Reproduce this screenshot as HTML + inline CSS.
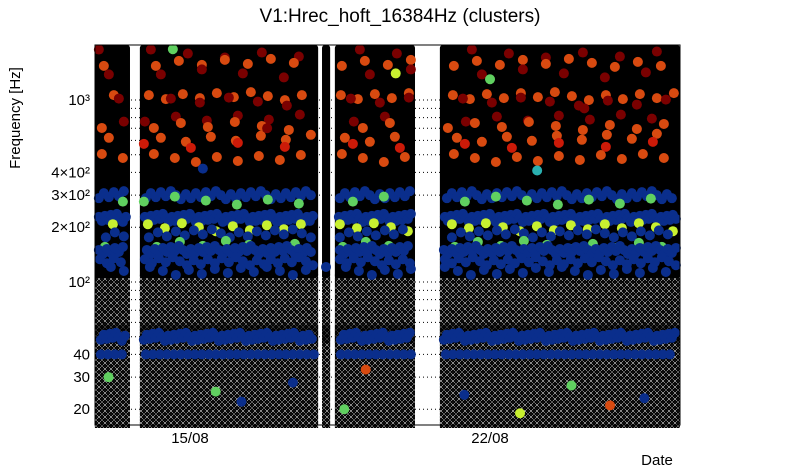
<!DOCTYPE html>
<html><head><meta charset="utf-8"><style>
body{margin:0;background:#fff;}
svg{display:block;font-family:"Liberation Sans",sans-serif;}
</style></head><body>
<svg id="chart" width="805" height="472">
<defs>
<pattern id="circ" width="6" height="6" patternUnits="userSpaceOnUse">
<circle cx="3" cy="3" r="3" fill="none" stroke="#000" stroke-width="1.3"/>
<circle cx="0" cy="0" r="3" fill="none" stroke="#000" stroke-width="1.2"/>
<circle cx="6" cy="6" r="3" fill="none" stroke="#000" stroke-width="1.2"/>
<circle cx="0" cy="6" r="3" fill="none" stroke="#000" stroke-width="1.2"/>
<circle cx="6" cy="0" r="3" fill="none" stroke="#000" stroke-width="1.2"/>
</pattern>
</defs>
<text x="400" y="22" text-anchor="middle" font-size="19">V1:Hrec_hoft_16384Hz (clusters)</text>
<text transform="translate(20,118) rotate(-90)" text-anchor="middle" font-size="15">Frequency [Hz]</text>
<text x="657" y="465" text-anchor="middle" font-size="15">Date</text>
<g id="grid"></g>
<g id="cover"></g>
<g id="marks"></g>
<rect x="95" y="45" width="585" height="380" fill="none" stroke="#000" stroke-width="1"/>
<g id="axes"></g>
</svg>
<script>
// data
const segments = [[-2.22,-1.40],[-1.17,2.99],[3.08,3.27],[3.38,5.25],[5.83,11.43]];
const bandFreqs = [1800,1600,1400,1050,980,800,720,620,560,480,300,280,225,200,185,160,150,130,115,50,40];
const bandColors = ['#7a0000','#d84a10','#7a0000','#d84a10','#7a0000','#7a0000','#d84a10','#d84a10','#cc1a08','#d84a10','#0a2e8c','#60d060','#0a2e8c','#c8f030','#0a2e8c','#60d060','#0a2e8c','#0a2e8c','#0a2e8c','#0a2e8c','#0a2e8c'];
const bandSteps = [37,23,41,17,29,31,27,25,47,21,5,31,3,17,9,23,4,7,13,3,7];
const extraDays = [-1.9,0.6,1.2,2.4,3.6,4.1,6.4,7.7,8.9,9.8,10.6,-0.4,4.8,1.8,7.0,9.2,0.3,8.1];
const extraFreqs = [30,25,22,28,20,33,24,19,27,21,23,1900,1400,700,1300,900,420,410];
const extraColors = ['#60d060','#60d060','#0a2e8c','#0a2e8c','#60d060','#d84a10','#0a2e8c','#c8f030','#60d060','#d84a10','#0a2e8c','#60d060','#c8f030','#7a0000','#60d060','#7a0000','#0a2e8c','#2ab0b0'];
const yTickVals = [1000,400,300,200,100,40,30,20];
const yTickLabels = ['10³','4×10²','3×10²','2×10²','10²','40','30','20'];
const xTickDays = [0,7];
const xTickLabels = ['15/08','22/08'];
const gridFreqs = [1000,900,800,700,600,500,400,300,200,100,90,80,70,60,50,40,30,20];

const NS='http://www.w3.org/2000/svg';
const X = d => 190 + 42.86*d;
const Y = f => 282 - 182*(Math.log10(f)-2);
function mk(tag, attrs, parent){const e=document.createElementNS(NS,tag);for(const k in attrs)e.setAttribute(k,attrs[k]);document.getElementById(parent).appendChild(e);return e;}

gridFreqs.forEach(f=>{
  const g=mk('line',{x1:95,x2:680,y1:Y(f),y2:Y(f),stroke:'#000','stroke-dasharray':'1,3','stroke-width':1},'grid');
  
  
});

segments.forEach(s=>{
  const x0=X(s[0]), w=X(s[1])-X(s[0]);
  const bot=mk('rect',{x:x0,y:Y(110),width:w,height:425-Y(110)+3,fill:'url(#circ)'},'cover');
  
  
  const top=mk('rect',{x:x0,y:45,width:w,height:Y(105)-45,fill:'#000',rx:3},'cover');
  
  
  const mid=mk('rect',{x:x0,y:Y(58),width:w,height:Y(46)-Y(58),fill:'#000',opacity:0.6},'cover');
  
  
});

bandFreqs.forEach((f,i)=>{
  segments.forEach((s,j)=>{
    const x0=X(s[0])+4, x1=X(s[1])-4;
    let k=0;
    for(let x=x0+((j*7+i*5)%bandSteps[i]);x<=x1;x+=bandSteps[i]){
      const dy=f>45?((k*13+i*7)%9)-4:0; k++;
      const c=mk('circle',{cx:x,cy:Y(f)+dy,r:5,fill:bandColors[i]},'marks');
      
      
    }
  });
});
extraDays.forEach((d,i)=>{
  const c=mk('circle',{cx:X(d),cy:Y(extraFreqs[i]),r:5,fill:extraColors[i]},'marks');
  
  
});

yTickVals.forEach((f,i)=>{
  const t=mk('text',{x:90,y:Y(f)+5,'text-anchor':'end','font-size':15},'axes');
  t.textContent=yTickLabels[i];
  
  
});
xTickDays.forEach((d,i)=>{
  const t=mk('text',{x:X(d),y:443,'text-anchor':'middle','font-size':15},'axes');
  t.textContent=xTickLabels[i];
  
  
});
</script>
</body></html>
